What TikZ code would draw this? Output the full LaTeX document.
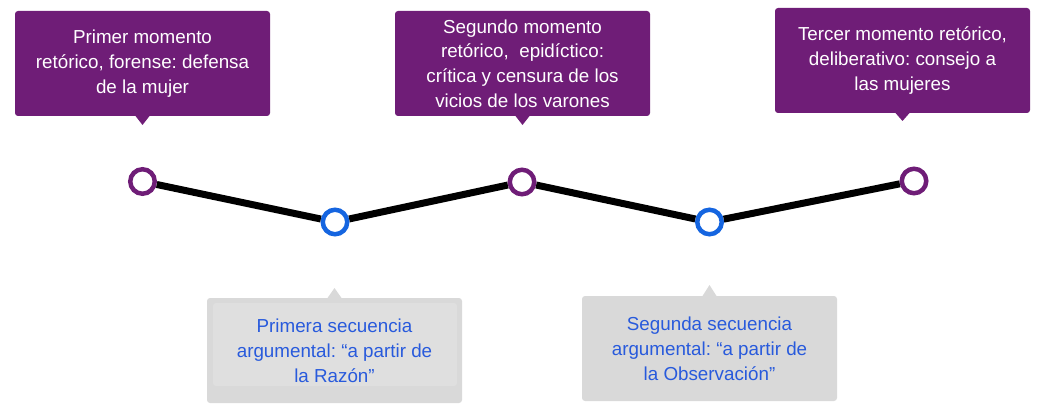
\documentclass[tikz,border=0pt]{standalone}
\usepackage{fontspec}
\setmainfont{Liberation Sans}
\frenchspacing
\usetikzlibrary{calc}
\definecolor{momentocol}{RGB}{111,29,119}
\definecolor{secuenciacol}{RGB}{21,101,224}
\definecolor{secuenciatxt}{RGB}{40,90,220}
\definecolor{grisbox}{RGB}{217,217,217}
\definecolor{grisin}{RGB}{223,223,223}
\begin{document}
\begin{tikzpicture}[x=1pt,y=-1pt,
    momento/.style={fill=momentocol,rounded corners=3pt,minimum width=255pt,minimum height=105pt,
      outer sep=0pt,inner sep=0pt,text=white,align=center,font=\fontsize{18.8}{24.8}\selectfont},
    secuencia/.style={fill=grisbox,rounded corners=3pt,minimum width=255pt,minimum height=105pt,
      outer sep=0pt,inner sep=0pt,text=secuenciatxt,align=center,font=\fontsize{18.8}{24.8}\selectfont},
    hito/.style={draw=#1,line width=4.5pt,fill=white,circle,minimum size=24.5pt,inner sep=0pt},
    linea/.style={line width=7pt,black}]
    \useasboundingbox (0,0) rectangle (1046,414);

    % momentos retoricos
    \node[momento] (m1) at (142.5,63.5) {Primer momento\\retórico, forense: defensa\\de la mujer};
    \node[momento] (m2) at (522.5,63.5) {Segundo momento\\retórico,\ \ epidíctico:\\crítica y censura de los\\vicios de los varones};
    \node[momento] (m3) at (902.5,60.5) {Tercer momento retórico,\\deliberativo: consejo a\\las mujeres};

    \fill[momentocol] ($(m1.south)+(-7,0)$) -- ($(m1.south)+(0,9)$) -- ($(m1.south)+(7,0)$) -- cycle;
    \fill[momentocol] ($(m2.south)+(-7,0)$) -- ($(m2.south)+(0,9)$) -- ($(m2.south)+(7,0)$) -- cycle;
    \fill[momentocol] ($(m3.south)+(-7,0)$) -- ($(m3.south)+(0,8)$) -- ($(m3.south)+(7,0)$) -- cycle;

    % secuencias argumentales
    \node[secuencia,path picture={\fill[grisin] ($(path picture bounding box.south west)+(6,-17)$)
      rectangle ($(path picture bounding box.north east)+(-5,5)$);}]
      (g1) at (334.5,350.5) {Primera secuencia\\argumental: “a partir de\\la Razón”};
    \node[secuencia] (g2) at (709.5,348.5) {Segunda secuencia\\argumental: “a partir de\\la Observación”};

    \fill[grisbox] ($(g1.north)+(-7,0)$) -- ($(g1.north)+(0,-10)$) -- ($(g1.north)+(7,0)$) -- cycle;
    \fill[grisbox] ($(g2.north)+(-7,0)$) -- ($(g2.north)+(0,-11)$) -- ($(g2.north)+(7,0)$) -- cycle;

    % linea
    \node[hito=momentocol] (c1) at (142.5,181.5) {};
    \node[hito=secuenciacol] (c2) at (335,222) {};
    \node[hito=momentocol] (c3) at (522,182) {};
    \node[hito=secuenciacol] (c4) at (709.5,222) {};
    \node[hito=momentocol] (c5) at (914,181) {};

    \draw[linea] (c1) -- (c2);
    \draw[linea] (c2) -- (c3);
    \draw[linea] (c3) -- (c4);
    \draw[linea] (c4) -- (c5);
  \end{tikzpicture}
\end{document}
